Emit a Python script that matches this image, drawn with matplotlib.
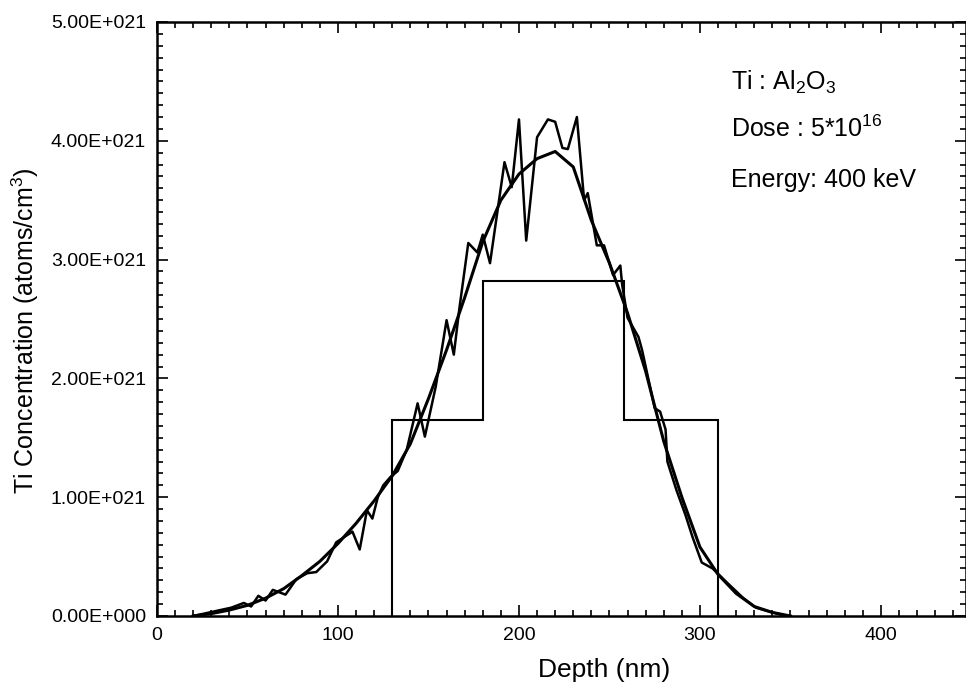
import numpy as np
import matplotlib
matplotlib.use("Agg")
import matplotlib.pyplot as plt
from matplotlib.ticker import MultipleLocator, FuncFormatter

# measured profile (depth nm, concentration in 1e21 atoms/cm3)
depth_raw = [20, 29, 41, 48, 52, 56, 60, 64, 71, 77, 83, 88, 94, 99, 103, 108,
             112, 116, 119, 122, 125, 129, 133, 138, 144, 148, 154, 160, 164,
             167, 172, 177, 180, 184, 192, 196, 200, 204, 210, 216, 220, 224,
             227, 232, 236, 238, 243, 247, 252, 256, 257, 260, 266, 268, 275,
             278, 281, 282, 287, 292, 296, 301, 307, 315, 324, 331, 340, 348]
conc_raw = [0.0, 0.03, 0.07, 0.11, 0.08, 0.17, 0.13, 0.22, 0.18, 0.31, 0.36,
            0.37, 0.46, 0.62, 0.66, 0.71, 0.56, 0.89, 0.82, 1.00, 1.10, 1.17,
            1.22, 1.40, 1.79, 1.51, 1.93, 2.49, 2.20, 2.58, 3.14, 3.06, 3.21,
            2.97, 3.82, 3.61, 4.18, 3.16, 4.03, 4.18, 4.16, 3.94, 3.93, 4.20,
            3.50, 3.56, 3.12, 3.12, 2.87, 2.95, 2.79, 2.51, 2.35, 2.24, 1.75,
            1.72, 1.57, 1.30, 1.06, 0.85, 0.66, 0.45, 0.40, 0.28, 0.15, 0.07,
            0.03, 0.0]

# fitted curve
depth_fit = [20, 30, 40, 50, 60, 70, 80, 90, 100, 110, 120, 130, 140, 150,
             160, 170, 180, 190, 200, 210, 220, 230, 240, 250, 260, 270, 280,
             290, 300, 310, 320, 330, 340, 350]
conc_fit = [0.0, 0.02, 0.05, 0.09, 0.15, 0.23, 0.34, 0.46, 0.61, 0.78, 0.97,
            1.18, 1.45, 1.83, 2.24, 2.68, 3.15, 3.50, 3.72, 3.85, 3.91, 3.78,
            3.33, 2.97, 2.55, 2.06, 1.47, 1.00, 0.58, 0.35, 0.19, 0.08, 0.03,
            0.0]

# implantation steps
bar_edges = [130, 180, 258, 310]
bar_heights = [1.65, 2.82, 1.65]

scale = 1e21

plt.rcParams['font.family'] = ['Liberation Sans', 'DejaVu Sans']
plt.rcParams['mathtext.fontset'] = 'custom'
plt.rcParams['mathtext.rm'] = 'Liberation Sans'
plt.rcParams['mathtext.it'] = 'Liberation Sans'

fig = plt.figure(figsize=(9.66, 6.86), dpi=100)
ax = fig.add_axes([157 / 966, 1 - 616 / 686, 809 / 966, 594 / 686])

ax.plot(depth_raw, np.array(conc_raw) * scale, color='black', lw=1.8)
ax.plot(depth_fit, np.array(conc_fit) * scale, color='black', lw=2.2)
ax.stairs(np.array(bar_heights) * scale, bar_edges, baseline=0,
          color='black', lw=1.5)

ax.set_xlim(0, 447)
ax.set_ylim(0, 5e21)
ax.xaxis.set_major_locator(MultipleLocator(100))
ax.xaxis.set_minor_locator(MultipleLocator(10))
ax.yaxis.set_major_locator(MultipleLocator(1e21))
ax.yaxis.set_minor_locator(MultipleLocator(1e20))


def sci(v, pos):
    if v == 0:
        return '0.00E+000'
    e = int(np.floor(np.log10(abs(v))))
    return f'{v / 10 ** e:.2f}E+{e:03d}'


ax.yaxis.set_major_formatter(FuncFormatter(sci))
ax.tick_params(which='both', direction='in', top=True, right=True,
               labelsize=14, width=1.2)
ax.tick_params(which='major', length=8, pad=8)
ax.tick_params(which='minor', length=4.5)
for s in ax.spines.values():
    s.set_linewidth(1.8)

ax.set_xlabel('Depth (nm)', fontsize=19)
ax.set_ylabel('Ti Concentration (atoms/cm$^3$)', fontsize=18)
ax.xaxis.set_label_coords(0.553, -0.071)
ax.yaxis.set_label_coords(-0.143, 0.48)

fig.text(0.757, 0.869, 'Ti : Al$_2$O$_3$', fontsize=18, va='baseline')
fig.text(0.757, 0.800, 'Dose : 5*10$^{16}$', fontsize=18, va='baseline')
fig.text(0.757, 0.727, 'Energy: 400 keV', fontsize=18, va='baseline')

fig.savefig('out.png', dpi=100)
